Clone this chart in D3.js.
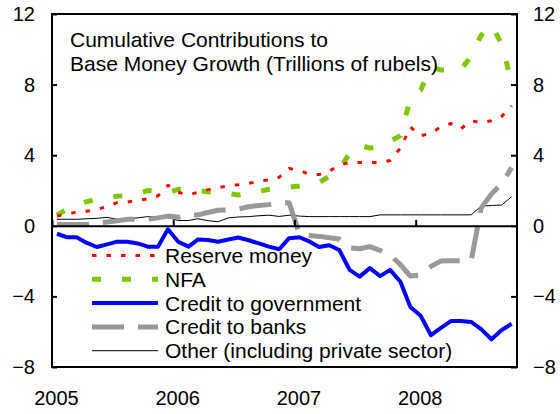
<!DOCTYPE html>
<html>
<head>
<meta charset="utf-8">
<script src="https://cdn.jsdelivr.net/npm/d3@7"></script>
<style>
  body { margin: 0; background: #fff; }
  svg { display: block; font-family: "Liberation Sans", Arial, sans-serif; }
</style>
</head>
<body>
<svg id="chart" width="560" height="414"></svg>
<script>
// months Jan 2005 .. Oct 2008
const months = d3.timeMonth.range(new Date(2005, 0, 1), new Date(2008, 10, 1));

const reserveMoney = [0.55, 0.68, 0.77, 0.83, 0.92, 1.1, 1.31, 1.35, 1.43, 1.53, 1.69, 2.3,
  1.9, 1.75, 1.9, 2.05, 2.15, 2.28, 2.33, 2.4, 2.53, 2.6, 2.75, 3.25,
  3.15, 2.9, 2.9, 3.1, 3.44, 3.58, 3.58, 3.58, 3.58, 3.7, 4.4, 5.6,
  5.1, 5.25, 5.6, 5.8, 5.5, 5.95, 5.85, 5.95, 6.2, 6.8];
const nfa = [0.6, 0.95, 1.2, 1.37, 1.5, 1.62, 1.67, 1.72, 1.8, 2.0, 1.95, 1.86,
  2.07, 2.02, 2.0, 1.93, 1.88, 1.83, 1.75, 1.85, 1.93, 2.07, 2.13, 2.19,
  2.26, 2.35, 2.45, 2.8, 3.2, 4.1, 4.58, 4.4, 4.5, 4.8, 5.1, 7.2,
  7.69, 8.98, 8.83, 8.83, 8.85, 9.6, 10.8, 11.38, 10.3, 8.1];
const creditGov = [-0.45, -0.65, -0.65, -0.97, -1.2, -1.05, -0.9, -0.9, -1.0, -1.18, -1.18, -0.2,
  -0.9, -1.18, -0.78, -0.8, -0.9, -0.78, -0.66, -0.82, -1.0, -1.18, -1.33, -0.7,
  -0.65, -0.9, -1.2, -1.1, -1.37, -2.5, -2.88, -2.4, -2.85, -2.5, -3.17, -4.6,
  -5.1, -6.2, -5.8, -5.4, -5.39, -5.45, -5.85, -6.43, -5.9, -5.55];
const creditBanks = [0.08, 0.08, 0.08, 0.08, 0.15, 0.22, 0.28, 0.37, 0.37, 0.37, 0.45, 0.55,
  0.48, 0.58, 0.62, 0.75, 0.88, 0.9, 0.95, 1.08, 1.15, 1.2, 1.3, 1.3,
  -0.45, -0.55, -0.6, -0.68, -0.75, -1.25, -1.3, -1.18, -1.4, -1.65, -2.2, -2.85,
  -2.78, -2.3, -2.0, -1.98, -1.98, -1.98, 1.0, 1.8, 2.4, 3.3];
const other = [0.37, 0.37, 0.37, 0.4, 0.42, 0.48, 0.37, 0.4, 0.45, 0.52, 0.5, 0.48,
  0.3, 0.3, 0.4, 0.29, 0.23, 0.45, 0.5, 0.52, 0.57, 0.6, 0.53, 0.6,
  0.55, 0.52, 0.52, 0.52, 0.52, 0.52, 0.52, 0.52, 0.62, 0.62, 0.62, 0.62,
  0.62, 0.62, 0.62, 0.62, 0.62, 0.62, 1.12, 1.15, 1.18, 1.65];

const yTicks = [-8, -4, 0, 4, 8, 12];
const yearTicks = [new Date(2005, 0, 1), new Date(2006, 0, 1), new Date(2007, 0, 1), new Date(2008, 0, 1)];
const titleLines = ["Cumulative Contributions to", "Base Money Growth (Trillions of rubels)"];

const series = [
  { name: "Reserve money", values: reserveMoney, color: "#ff0000", width: 3, dash: "4.5,10" },
  { name: "NFA", values: nfa, color: "#7dc700", width: 5, dash: "9,21" },
  { name: "Credit to government", values: creditGov, color: "#0000ff", width: 4, dash: null },
  { name: "Credit to banks", values: creditBanks, color: "#999999", width: 5, dash: "32,14" },
  { name: "Other (including private sector)", values: other, color: "#000000", width: 1, dash: null }
];

const svg = d3.select("#chart");
const plotL = 52, plotR = 517, plotT = 14, plotB = 367;

const x = d3.scaleTime()
  .domain([new Date(2005, 0, 1), new Date(2008, 10, 1)])
  .range([plotL, plotR]);
const y = d3.scaleLinear().domain([-8, 12]).range([plotB, plotT]);

const line = d3.line()
  .x((d, i) => x(d3.timeDay.offset(months[i], 15)))
  .y(d => y(d));

// draw thin/gray first, blue last
const drawOrder = [4, 3, 1, 0, 2];
drawOrder.forEach(k => {
  const s = series[k];
  svg.append("path")
    .datum(s.values)
    .attr("fill", "none")
    .attr("stroke", s.color)
    .attr("stroke-width", s.width)
    .attr("stroke-dasharray", s.dash)
    .attr("stroke-linejoin", "round")
    .attr("d", line);
});

// frame
svg.append("rect")
  .attr("x", plotL).attr("y", plotT)
  .attr("width", plotR - plotL).attr("height", plotB - plotT)
  .attr("fill", "none").attr("stroke", "#000").attr("stroke-width", 2);

const yl = svg.append("g")
  .attr("transform", `translate(${plotL},0)`)
  .call(d3.axisLeft(y).tickValues(yTicks).tickSize(-5).tickPadding(17));
const yr = svg.append("g")
  .attr("transform", `translate(${plotR},0)`)
  .call(d3.axisRight(y).tickValues(yTicks).tickSize(-6).tickPadding(16));

// zero line with year ticks
const xz = svg.append("g")
  .attr("transform", `translate(0,${y(0)})`)
  .call(d3.axisBottom(x).tickValues(yearTicks).tickSize(-6).tickSizeOuter(0).tickFormat(""));

// year labels under the plot
const xb = svg.append("g")
  .attr("transform", `translate(0,${plotB})`)
  .call(d3.axisBottom(x).tickValues(yearTicks).tickSize(0).tickPadding(24)
    .tickFormat(d3.timeFormat("%Y")));
xb.selectAll("text").attr("dx", 4);
xb.select(".domain").remove();

[yl, yr, xz, xb].forEach(g => {
  g.selectAll("text").attr("font-size", 20).attr("fill", "#000")
    .attr("font-family", "Liberation Sans, Arial, sans-serif");
  g.selectAll("line").attr("stroke", "#000").attr("stroke-width", 2);
});
yl.select(".domain").remove();
yr.select(".domain").remove();
xz.select(".domain").attr("stroke", "#000").attr("stroke-width", 2);

// title
svg.append("g").selectAll("text")
  .data(titleLines)
  .join("text")
  .attr("x", 70)
  .attr("y", (d, i) => 47 + i * 24)
  .attr("font-size", 21)
  .text(d => d);

// legend
const lg = svg.append("g");
series.forEach((s, i) => {
  const by = 263 + i * 23.8;
  lg.append("line")
    .attr("x1", 92).attr("x2", 158)
    .attr("y1", by - 7.5).attr("y2", by - 7.5)
    .attr("stroke", s.color)
    .attr("stroke-width", s.width)
    .attr("stroke-dasharray", s.dash);
  lg.append("text")
    .attr("x", 165).attr("y", by)
    .attr("font-size", 21)
    .text(s.name);
});
</script>
</body>
</html>
